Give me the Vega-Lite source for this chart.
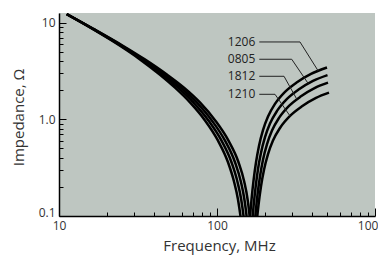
{
  "$schema": "https://vega.github.io/schema/vega-lite/v6.json",
  "width": 316,
  "height": 203,
  "autosize": {"type": "none"},
  "padding": {"left": 59, "top": 13, "right": 3, "bottom": 41},
  "background": "white",
  "config": {
    "view": {"fill": "#bec6c1", "stroke": null},
    "font": "Open Sans"
  },
  "datasets": {
    "curves": [
      {"s": "1206", "f": 11.19, "z": 12.25}, {"s": "1206", "f": 16.41, "z": 8.563}, {"s": "1206", "f": 24.32, "z": 5.777}, {"s": "1206", "f": 32.55, "z": 4.175}, {"s": "1206", "f": 43.59, "z": 2.892}, {"s": "1206", "f": 54.23, "z": 2.126}, {"s": "1206", "f": 67.47, "z": 1.497}, {"s": "1206", "f": 83.96, "z": 0.974}, {"s": "1206", "f": 101.5, "z": 0.6016}, {"s": "1206", "f": 117.4, "z": 0.360}, {"s": "1206", "f": 128.1, "z": 0.2278}, {"s": "1206", "f": 135.8, "z": 0.1483}, {"s": "1206", "f": 141.9, "z": 0.0898}, {"s": "1206", "f": 151.5, "z": 0.027},
      {"s": "1206", "f": 161.8, "z": 0.0988}, {"s": "1206", "f": 165.3, "z": 0.1465}, {"s": "1206", "f": 170.2, "z": 0.2305}, {"s": "1206", "f": 176.6, "z": 0.360}, {"s": "1206", "f": 184.5, "z": 0.534}, {"s": "1206", "f": 195.5, "z": 0.7746}, {"s": "1206", "f": 210.3, "z": 1.069}, {"s": "1206", "f": 232.8, "z": 1.444}, {"s": "1206", "f": 269.4, "z": 1.923}, {"s": "1206", "f": 320.8, "z": 2.418}, {"s": "1206", "f": 393.6, "z": 2.954}, {"s": "1206", "f": 496.8, "z": 3.443},
      {"s": "0805", "f": 11.19, "z": 12.25}, {"s": "0805", "f": 16.50, "z": 8.563}, {"s": "0805", "f": 24.66, "z": 5.777}, {"s": "0805", "f": 33.32, "z": 4.175}, {"s": "0805", "f": 45.14, "z": 2.892}, {"s": "0805", "f": 56.65, "z": 2.126}, {"s": "0805", "f": 70.79, "z": 1.497}, {"s": "0805", "f": 88.23, "z": 0.974}, {"s": "0805", "f": 106.8, "z": 0.6016}, {"s": "0805", "f": 123.5, "z": 0.360}, {"s": "0805", "f": 134.6, "z": 0.2278}, {"s": "0805", "f": 142.3, "z": 0.1483}, {"s": "0805", "f": 148.3, "z": 0.0898}, {"s": "0805", "f": 157.1, "z": 0.027},
      {"s": "0805", "f": 166.6, "z": 0.0836}, {"s": "0805", "f": 170.2, "z": 0.124}, {"s": "0805", "f": 175.3, "z": 0.195}, {"s": "0805", "f": 181.7, "z": 0.3047}, {"s": "0805", "f": 189.9, "z": 0.4518}, {"s": "0805", "f": 201.3, "z": 0.6554}, {"s": "0805", "f": 216.5, "z": 0.9048}, {"s": "0805", "f": 239.8, "z": 1.222}, {"s": "0805", "f": 277.4, "z": 1.627}, {"s": "0805", "f": 330.3, "z": 2.046}, {"s": "0805", "f": 405.2, "z": 2.5}, {"s": "0805", "f": 500.5, "z": 2.871},
      {"s": "1812", "f": 11.19, "z": 12.25}, {"s": "1812", "f": 16.58, "z": 8.563}, {"s": "1812", "f": 25.01, "z": 5.777}, {"s": "1812", "f": 34.10, "z": 4.175}, {"s": "1812", "f": 46.74, "z": 2.892}, {"s": "1812", "f": 59.18, "z": 2.126}, {"s": "1812", "f": 74.29, "z": 1.497}, {"s": "1812", "f": 92.71, "z": 0.974}, {"s": "1812", "f": 112.4, "z": 0.6016}, {"s": "1812", "f": 130.0, "z": 0.360}, {"s": "1812", "f": 141.5, "z": 0.2278}, {"s": "1812", "f": 149.1, "z": 0.1483}, {"s": "1812", "f": 154.9, "z": 0.0898}, {"s": "1812", "f": 162.9, "z": 0.027},
      {"s": "1812", "f": 171.5, "z": 0.0707}, {"s": "1812", "f": 175.3, "z": 0.1049}, {"s": "1812", "f": 180.4, "z": 0.1651}, {"s": "1812", "f": 187.2, "z": 0.2578}, {"s": "1812", "f": 195.5, "z": 0.3824}, {"s": "1812", "f": 207.3, "z": 0.5546}, {"s": "1812", "f": 222.9, "z": 0.7655}, {"s": "1812", "f": 246.9, "z": 1.034}, {"s": "1812", "f": 285.6, "z": 1.377}, {"s": "1812", "f": 340.2, "z": 1.731}, {"s": "1812", "f": 417.2, "z": 2.116}, {"s": "1812", "f": 504.1, "z": 2.395},
      {"s": "1210", "f": 11.19, "z": 12.25}, {"s": "1210", "f": 16.67, "z": 8.563}, {"s": "1210", "f": 25.36, "z": 5.777}, {"s": "1210", "f": 34.91, "z": 4.175}, {"s": "1210", "f": 48.41, "z": 2.892}, {"s": "1210", "f": 61.83, "z": 2.126}, {"s": "1210", "f": 77.95, "z": 1.497}, {"s": "1210", "f": 97.41, "z": 0.974}, {"s": "1210", "f": 118.2, "z": 0.6016}, {"s": "1210", "f": 136.8, "z": 0.360}, {"s": "1210", "f": 148.6, "z": 0.2278}, {"s": "1210", "f": 156.2, "z": 0.1483}, {"s": "1210", "f": 161.8, "z": 0.0898}, {"s": "1210", "f": 169.0, "z": 0.027},
      {"s": "1210", "f": 174.0, "z": 0.0557}, {"s": "1210", "f": 177.8, "z": 0.0826}, {"s": "1210", "f": 183.1, "z": 0.13}, {"s": "1210", "f": 189.9, "z": 0.2032}, {"s": "1210", "f": 198.4, "z": 0.3012}, {"s": "1210", "f": 210.3, "z": 0.4369}, {"s": "1210", "f": 226.1, "z": 0.6031}, {"s": "1210", "f": 250.4, "z": 0.8144}, {"s": "1210", "f": 289.8, "z": 1.0845}, {"s": "1210", "f": 345.1, "z": 1.364}, {"s": "1210", "f": 423.3, "z": 1.666}, {"s": "1210", "f": 511.5, "z": 1.887}
    ],
    "leaders": [
      {"s": "1206", "f": 185.2, "z": 6.32}, {"s": "1206", "f": 335.2, "z": 6.32}, {"s": "1206", "f": 437.6, "z": 3.16},
      {"s": "0805", "f": 185.2, "z": 4.185}, {"s": "0805", "f": 297.1, "z": 4.185}, {"s": "0805", "f": 378.3, "z": 2.338},
      {"s": "1812", "f": 185.2, "z": 2.79}, {"s": "1812", "f": 265.6, "z": 2.79}, {"s": "1812", "f": 320.8, "z": 1.604},
      {"s": "1210", "f": 185.2, "z": 1.816}, {"s": "1210", "f": 232.9, "z": 1.816}, {"s": "1210", "f": 289.8, "z": 1.085}
    ],
    "labels": [
      {"s": "1206", "f": 185.2, "z": 6.32},
      {"s": "0805", "f": 185.2, "z": 4.185},
      {"s": "1812", "f": 185.2, "z": 2.79},
      {"s": "1210", "f": 185.2, "z": 1.816}
    ]
  },
  "encoding": {
    "x": {
      "field": "f", "type": "quantitative",
      "scale": {"type": "log", "domain": [10, 1000], "nice": false},
      "axis": {
        "title": "Frequency, MHz",
        "values": [10, 20, 30, 40, 50, 60, 70, 80, 90, 100, 200, 300, 400, 500, 600, 700, 800, 900, 1000],
        "labelExpr": "datum.value === 10 ? '10' : datum.value === 100 ? '100' : datum.value === 1000 ? '1000' : ''",
        "tickSize": {"condition": {"test": "datum.value === 10 || datum.value === 100 || datum.value === 1000", "value": -8}, "value": -4},
        "labelOffset": {"condition": {"test": "datum.value === 1000", "value": -4}, "value": 0},
        "tickColor": "black", "tickWidth": 1,
        "domainColor": "black", "domainWidth": 1.5,
        "labelPadding": 12, "labelFontSize": 12, "labelColor": "#333",
        "labelFlush": false, "labelOverlap": false, "labelBound": false,
        "titleFontSize": 15, "titleFontWeight": "normal", "titleColor": "#333",
        "titleX": 160, "titleY": 34, "titleBaseline": "alphabetic",
        "grid": false
      }
    },
    "y": {
      "field": "z", "type": "quantitative",
      "scale": {"type": "log", "domain": [0.1, 12.6], "nice": false},
      "axis": {
        "title": "Impedance, Ω",
        "values": [0.1, 0.2, 0.3, 0.4, 0.5, 0.6, 0.7, 0.8, 0.9, 1, 2, 3, 4, 5, 6, 7, 8, 9, 10],
        "labelExpr": "datum.value === 10 ? '10' : datum.value === 1 ? '1.0' : datum.value === 0.1 ? '0.1' : ''",
        "tickSize": {"condition": {"test": "datum.value === 10 || datum.value === 1 || datum.value === 0.1", "value": -7}, "value": -4},
        "labelBaseline": {"condition": {"test": "datum.value === 0.1", "value": "alphabetic"}, "value": "middle"},
        "tickColor": "black", "tickWidth": 1,
        "domainColor": "black", "domainWidth": 1.5,
        "labelPadding": 11, "labelFontSize": 12, "labelColor": "#333",
        "labelFlush": false, "labelOverlap": false, "labelBound": false,
        "titleFontSize": 15, "titleFontWeight": "normal", "titleColor": "#333",
        "titleX": -36, "titleY": 104, "titleBaseline": "alphabetic",
        "grid": false
      }
    }
  },
  "layer": [
    {
      "data": {"name": "curves"},
      "mark": {"type": "line", "clip": true, "interpolate": "monotone", "strokeWidth": 2.5, "color": "black"},
      "encoding": {"detail": {"field": "s"}}
    },
    {
      "data": {"name": "leaders"},
      "mark": {"type": "line", "strokeWidth": 1, "color": "#222"},
      "encoding": {"detail": {"field": "s"}}
    },
    {
      "data": {"name": "labels"},
      "mark": {"type": "text", "align": "right", "baseline": "middle", "dx": -4, "fontSize": 12, "color": "#222"},
      "encoding": {"text": {"field": "s"}}
    }
  ]
}
